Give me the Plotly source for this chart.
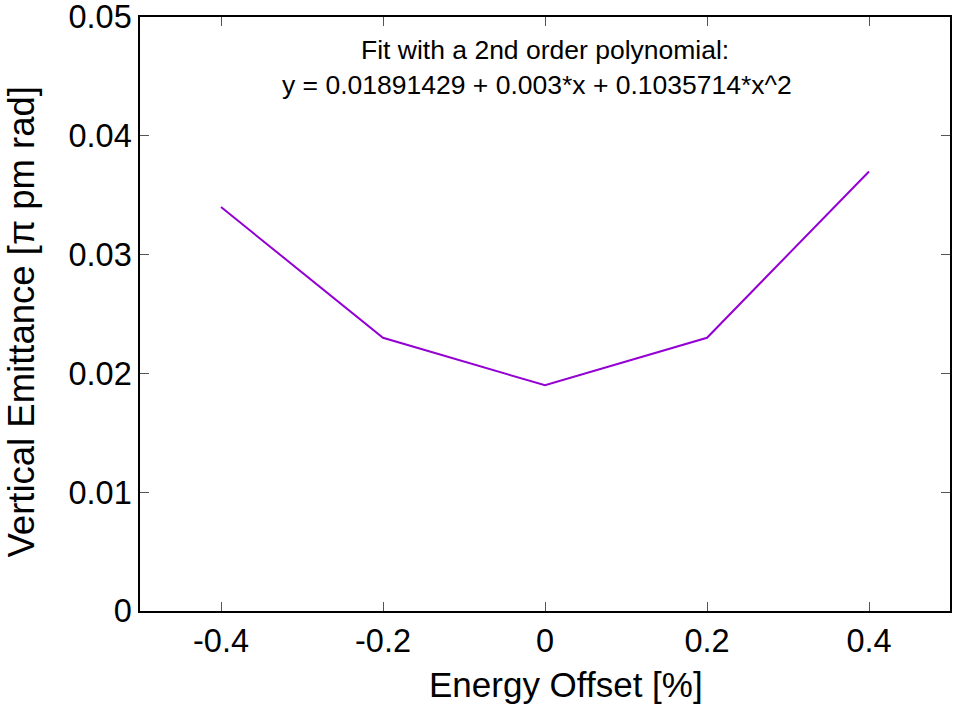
import plotly.graph_objects as go

energy_offset = [-0.4, -0.2, 0.0, 0.2, 0.4]
emittance = [0.034, 0.023, 0.019, 0.023, 0.037]

x_tickvals = [-0.4, -0.2, 0, 0.2, 0.4]
x_ticktext = ["-0.4", "-0.2", "0", "0.2", "0.4"]
y_tickvals = [0, 0.01, 0.02, 0.03, 0.04, 0.05]
y_ticktext = ["0", "0.01", "0.02", "0.03", "0.04", "0.05"]

x_title = "Energy Offset [%]"
y_title = "Vertical Emittance [π pm rad]"
fit_line1 = "Fit with a 2nd order polynomial:"
fit_line2 = "y = 0.01891429 + 0.003*x + 0.1035714*x^2"

FONT = "Liberation Sans, Arial, Helvetica, sans-serif"

W, H = 955, 705
ML, MR, MT, MB = 140, 5, 17, 94
PW = W - ML - MR
PH = H - MT - MB


def px(x):
    return (x - ML) / PW


def py(y):
    return (H - MB - y) / PH


fig = go.Figure()
fig.add_trace(go.Scatter(
    x=energy_offset, y=emittance, mode="lines",
    line=dict(color="#9400D3", width=2),
    showlegend=False,
))

axis_common = dict(
    showline=True, linecolor="black", linewidth=1.5, mirror="ticks",
    ticks="inside", ticklen=9, tickwidth=1, tickcolor="#555555",
    showgrid=False, zeroline=False, automargin=False,
    tickfont=dict(family=FONT, size=32.5, color="black"),
    ticklabeloverflow="allow",
)

fig.update_layout(
    width=W, height=H,
    margin=dict(l=ML, r=MR, t=MT, b=MB, autoexpand=False),
    paper_bgcolor="white", plot_bgcolor="white",
    font=dict(family=FONT, color="black"),
    xaxis=dict(range=[-0.5, 0.5], tickvals=x_tickvals, ticktext=x_ticktext, **axis_common),
    yaxis=dict(range=[0, 0.0500001], tickvals=y_tickvals, ticktext=y_ticktext, **axis_common),
    annotations=[
        dict(text=fit_line1, x=px(545), y=py(50), xref="paper", yref="paper",
             xanchor="center", yanchor="middle", borderpad=0,
             showarrow=False, font=dict(family=FONT, size=26.5)),
        dict(text=fit_line2, x=px(537), y=py(85), xref="paper", yref="paper",
             xanchor="center", yanchor="middle", borderpad=0,
             showarrow=False, font=dict(family=FONT, size=26.5)),
        dict(text=x_title, x=px(566), y=py(705), xref="paper", yref="paper",
             xanchor="center", yanchor="bottom", borderpad=0,
             showarrow=False, font=dict(family=FONT, size=35)),
        dict(text=y_title, x=px(0), y=py(322), xref="paper", yref="paper",
             xanchor="left", yanchor="middle", borderpad=0,
             textangle=-90, showarrow=False, font=dict(family=FONT, size=36.5)),
    ],
)

fig.write_html("out.html")
